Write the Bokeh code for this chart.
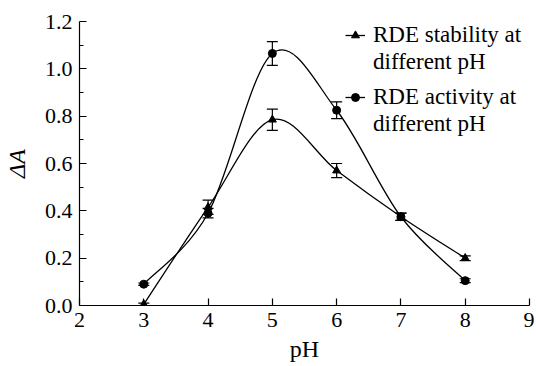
from bokeh.plotting import figure
from bokeh.models import (ColumnDataSource, Whisker, TeeHead, Legend, LegendItem, FixedTicker,
                          Range1d, CustomJSTickFormatter)
from bokeh.embed import file_html
from bokeh.resources import INLINE

ph = [3, 4, 5, 6, 7, 8]
stability = [0.005, 0.415, 0.785, 0.570, 0.375, 0.200]
stability_err = [0.005, 0.030, 0.045, 0.030, 0.015, 0.010]
activity = [0.090, 0.390, 1.065, 0.825, 0.375, 0.105]
activity_err = [0.005, 0.020, 0.050, 0.035, 0.015, 0.008]
x_ticks = [2, 3, 4, 5, 6, 7, 8, 9]
y_ticks = [0.0, 0.2, 0.4, 0.6, 0.8, 1.0, 1.2]
y_minor = [0.1, 0.3, 0.5, 0.7, 0.9, 1.1]
legend_lines = [["RDE stability at", "different pH"], ["RDE activity at", "different pH"]]

FONT = "Liberation Serif"

p = figure(width=534, height=364, output_backend="svg", toolbar_location=None,
           x_range=Range1d(2, 9), y_range=Range1d(0, 1.2),
           min_border_left=79, min_border_top=21, min_border_right=5, min_border_bottom=59)
p.outline_line_color = None
p.grid.visible = False
p.background_fill_color = "white"


def catmull(xs, ys):
    n = len(xs)
    x0, y0, x1, y1, cx0, cy0, cx1, cy1 = [], [], [], [], [], [], [], []
    for i in range(n - 1):
        a = max(i - 1, 0)
        d = min(i + 2, n - 1)
        x0.append(xs[i]); y0.append(ys[i])
        x1.append(xs[i + 1]); y1.append(ys[i + 1])
        cx0.append(xs[i] + (xs[i + 1] - xs[a]) / 6.0)
        cy0.append(ys[i] + (ys[i + 1] - ys[a]) / 6.0)
        cx1.append(xs[i + 1] - (xs[d] - xs[i]) / 6.0)
        cy1.append(ys[i + 1] - (ys[d] - ys[i]) / 6.0)
    return dict(x0=x0, y0=y0, x1=x1, y1=y1, cx0=cx0, cy0=cy0, cx1=cx1, cy1=cy1)


series = [
    (legend_lines[0], stability, stability_err, "triangle", 8, 230),
    (legend_lines[1], activity, activity_err, "circle", 8, 168),
]

for lines, vals, errs, marker, size, leg_y in series:
    p.bezier(source=ColumnDataSource(catmull(ph, vals)), x0="x0", y0="y0", x1="x1", y1="y1",
             cx0="cx0", cy0="cy0", cx1="cx1", cy1="cy1", line_color="black", line_width=1.3)
    src = ColumnDataSource(dict(x=ph, y=vals,
                                lo=[v - e for v, e in zip(vals, errs)],
                                hi=[v + e for v, e in zip(vals, errs)]))
    w = Whisker(source=src, base="x", upper="hi", lower="lo", line_color="black", line_width=1.2,
                upper_head=TeeHead(size=11, line_color="black", line_width=1.2),
                lower_head=TeeHead(size=11, line_color="black", line_width=1.2))
    p.add_layout(w)
    p.scatter("x", "y", source=src, marker=marker, size=size, fill_color="black", line_color="black")
    leg_line = p.line([float("nan")], [float("nan")], line_color="black", line_width=1.3)
    leg_pt = p.scatter([float("nan")], [float("nan")], marker=marker, size=6,
                       fill_color="black", line_color="black")
    items = [LegendItem(label=lines[0], renderers=[leg_line, leg_pt]),
             LegendItem(label=lines[1], renderers=[])]
    legend = Legend(items=items, location=(266, leg_y), border_line_color=None,
                    background_fill_alpha=0, label_text_font=FONT, label_text_font_size="23px",
                    label_text_color="black",
                    glyph_width=20, glyph_height=20, label_height=20, spacing=1, padding=0,
                    margin=0, label_standoff=8, label_text_line_height=1.15)
    p.add_layout(legend)

for ax in (p.xaxis[0], p.yaxis[0]):
    ax.axis_line_color = "black"
    ax.axis_line_width = 1.2
    ax.major_tick_in = 7
    ax.major_tick_out = 0
    ax.major_tick_line_color = "black"
    ax.major_tick_line_width = 1.2
    ax.major_label_text_font = FONT
    ax.major_label_text_font_size = "22px"
    ax.major_label_text_color = "black"
    ax.axis_label_text_font = FONT
    ax.axis_label_text_font_size = "24px"
    ax.axis_label_text_color = "black"
    ax.axis_label_text_font_style = "normal"

p.xaxis.ticker = FixedTicker(ticks=x_ticks)
p.xaxis.minor_tick_line_color = None
p.xaxis.major_label_standoff = 7
p.xaxis.axis_label = "pH"
p.xaxis.axis_label_standoff = 6

p.yaxis.ticker = FixedTicker(ticks=y_ticks, minor_ticks=y_minor)
p.yaxis.minor_tick_in = 4
p.yaxis.minor_tick_out = 0
p.yaxis.minor_tick_line_color = "black"
p.yaxis.formatter = CustomJSTickFormatter(code="return tick.toFixed(1);")
p.yaxis.major_label_standoff = 7
p.yaxis.axis_label = "ΔA"
p.yaxis.axis_label_text_font_style = "italic"
p.yaxis.axis_label_standoff = 12

open("out.html", "w").write(file_html(p, INLINE))
